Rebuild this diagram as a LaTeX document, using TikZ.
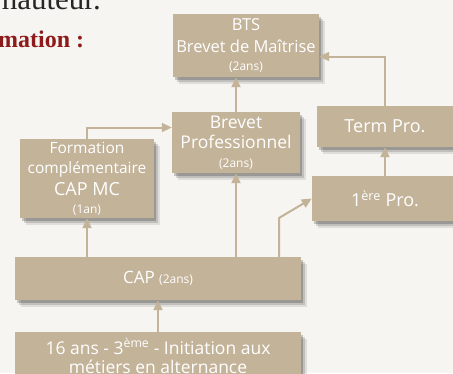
\documentclass[tikz,border=0pt]{standalone}
\usepackage{fontspec}
\setmainfont{Open Sans}
\newfontfamily\titlefont{Liberation Serif}
\usetikzlibrary{arrows.meta,shadows}

\definecolor{tan}{HTML}{C3B399}
\definecolor{paper}{HTML}{F7F5F1}
\definecolor{maroon}{HTML}{8E1B1B}

\tikzstyle{step box}=[fill=tan,text=white,align=center,inner sep=0pt,
  font=\fontsize{17}{20}\selectfont,
  drop shadow={shadow xshift=2pt,shadow yshift=-3pt,opacity=.2,fill=black},
  drop shadow={shadow xshift=4pt,shadow yshift=-5pt,opacity=.14,fill=black},
  drop shadow={shadow xshift=6pt,shadow yshift=-7pt,opacity=.09,fill=black}]
\tikzstyle{link} = [draw,tan,line width=2pt,-{Triangle[length=10pt,width=9pt]}]
\newcommand{\yrs}[1]{{\fontsize{12}{13}\selectfont #1}}

\begin{document}
\begin{tikzpicture}[x=1pt,y=-1pt]
      \useasboundingbox (0,0) rectangle (453,373);
      \clip (0,0) rectangle (453,373);
      \fill[paper] (0,0) rectangle (453,373);
      % bits of the page text
      \node[anchor=base east,inner sep=0pt,font=\titlefont\fontsize{31}{31}\selectfont,text=black!85] (head) at (101,9) {hauteur.};
      \node[anchor=base west,inner sep=0pt,font=\titlefont\bfseries\fontsize{24}{24}\selectfont,text=maroon] (sub) at (-2,47) {mation :};
      % the boxes
      \node[step box,minimum width=146pt,minimum height=63pt,font=\fontsize{16.5}{20}\selectfont] (bts) at (246,45.5)
        {BTS\\[2pt]Brevet de Maîtrise\\[-2pt]\yrs{(2ans)}};
      \node[step box,minimum width=128pt,minimum height=61pt,font=\fontsize{17.5}{20}\selectfont] (bp) at (236,142.5)
        {Brevet\\Professionnel\\[-1pt]\yrs{(2ans)}};
      \node[step box,minimum width=136pt,minimum height=41pt,font=\fontsize{18}{20}\selectfont] (term) at (385,126.5) {Term Pro.};
      \node[step box,minimum width=146pt,minimum height=45pt,font=\fontsize{18}{20}\selectfont] (prem) at (385,198.5) {1\textsuperscript{ère} Pro.};
      \node[step box,minimum width=134pt,minimum height=79pt,font=\fontsize{15.5}{20}\selectfont] (fc) at (87,178.5)
        {Formation\\complémentaire\\[2pt]{\fontsize{18}{20}\selectfont CAP MC}\\[-2pt]\yrs{(1an)}};
      \node[step box,minimum width=286pt,minimum height=43pt] (cap) at (158,278.5) {CAP \yrs{(2ans)}};
      \node[step box,minimum width=286pt,minimum height=48pt,font=\fontsize{17.5}{19}\selectfont] (init) at (158,356)
        {16 ans - 3\textsuperscript{ème} - Initiation aux\\métiers en alternance};
      % the links
      \coordinate (bend) at (279,218);
      \path[link] (bp.north) -- (bp.north |- bts.south);
      \path[link] (term.north) |- ([yshift=-11pt]bts.east);
      \path[link] (fc.north) |- ([yshift=15pt]bp.west);
      \path[link] (prem.north -| term) -- (term.south);
      \path[link] (cap.north -| fc) -- (fc.south);
      \path[link] (cap.north -| bp) -- (bp.south);
      \path[link] (cap.north -| bend) -- (bend) -- (prem.west);
      \path[link] (init.north) -- (cap.south);
\end{tikzpicture}
\end{document}
